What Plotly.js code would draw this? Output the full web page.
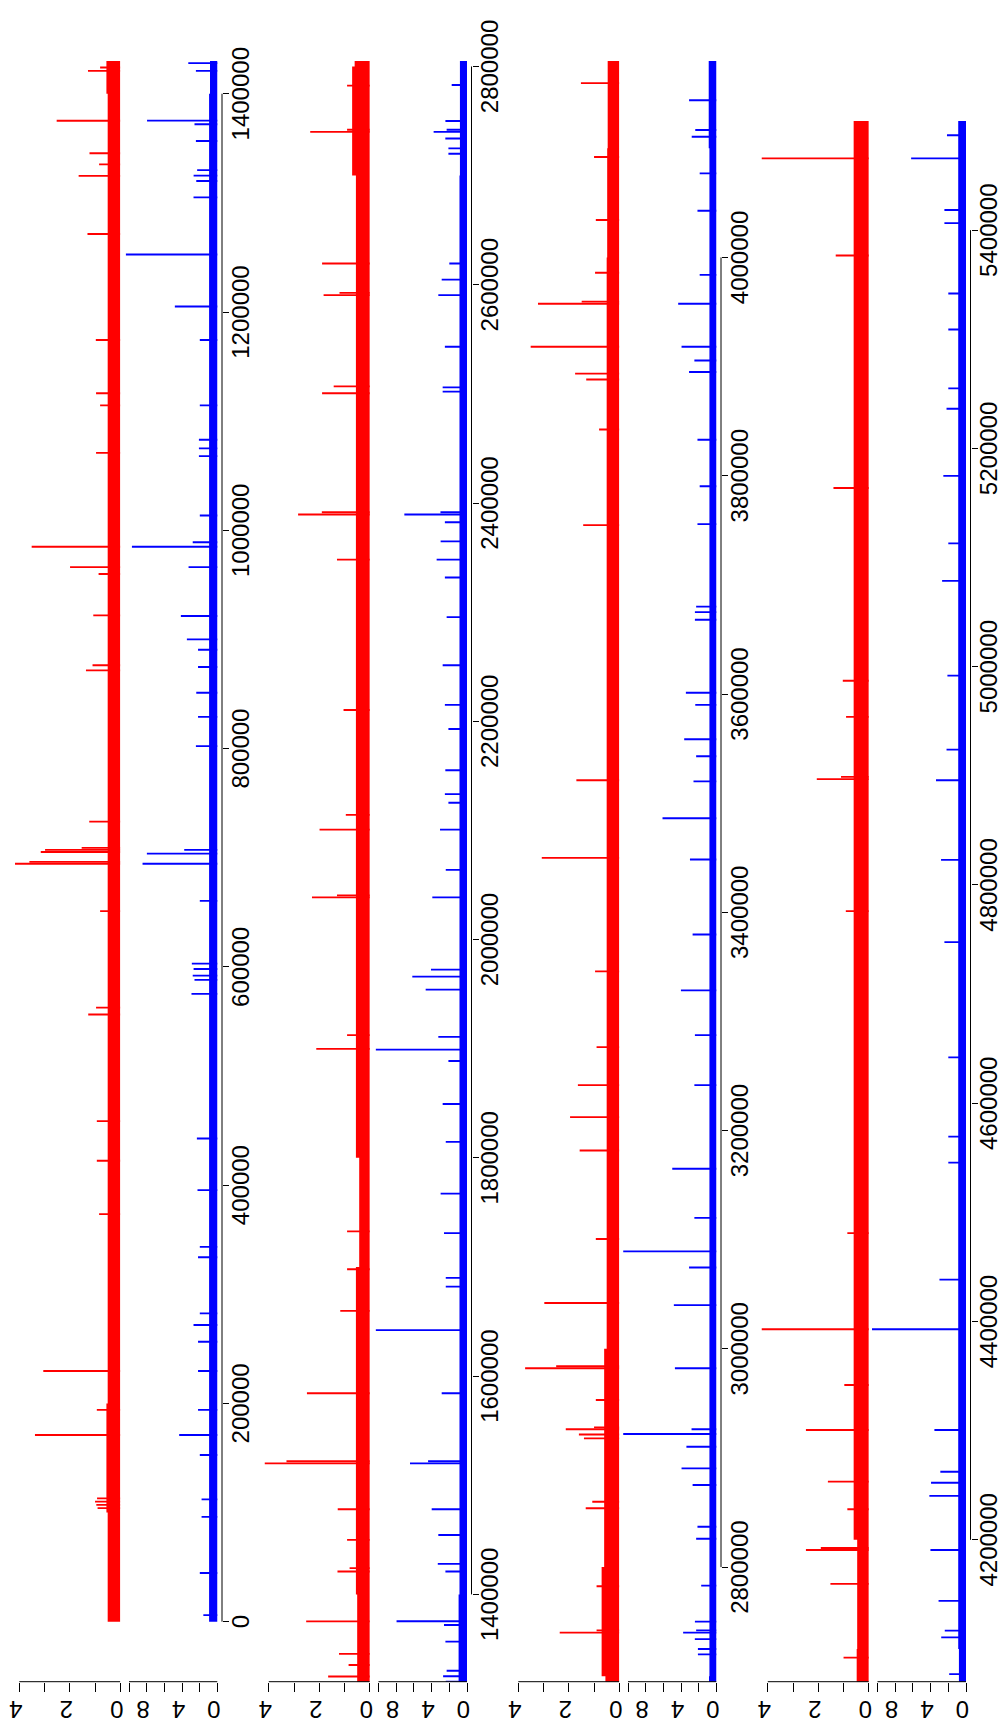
<!DOCTYPE html>
<html>
<head>
<meta charset="utf-8">
<script src="https://cdn.plot.ly/plotly-3.0.1.min.js"></script>
<style>
html,body{margin:0;padding:0;background:#fff;width:1001px;height:1731px;overflow:hidden;}
#wrap{position:absolute;left:0;top:0;width:1731px;height:1001px;transform-origin:0 0;transform:translate(0px,1731px) rotate(-90deg);}
</style>
</head>
<body>
<div id="wrap"></div>
<script>
// ---------------- DATA (positions in kb, values as read) ----------------
const binKb = 100;
// coverage background level per 100 kb bin (0 .. 5500 kb)
const redBase = [0.5,0.55,0.5,0.5,0.5,0.5,0.5,0.5,0.5,0.5,0.5,0.5,0.5,0.5,
                 0.55,0.55,0.55,0.42,0.55,0.55,0.55,0.55,0.55,0.55,0.55,0.55,0.55,
                 0.7,0.6,0.6,0.5,0.5,0.5,0.5,0.5,0.5,0.5,0.5,0.5,0.5,0.48,0.46,
                 0.6,0.6,0.6,0.6,0.6,0.6,0.6,0.6,0.6,0.6,0.6,0.6,0.6];
const blueBase = [0.95,0.95,0.95,0.95,0.95,0.95,0.95,0.95,0.95,0.95,0.95,0.95,0.95,0.95,
                  0.85,0.85,0.85,0.85,0.85,0.85,0.85,0.85,0.85,0.85,0.85,0.85,0.85,
                  0.8,0.8,0.8,0.8,0.8,0.8,0.8,0.8,0.8,0.8,0.8,0.8,0.8,0.8,
                  0.88,0.88,0.88,0.88,0.88,0.88,0.88,0.88,0.88,0.88,0.88,0.88,0.88,0.88];
// zero-coverage gaps (kb)
const gapStartKb = [228.3,809.0,1190.3,1274.5,1561.3,1633.7,1658.0,1779.5,1783.0,1787.0,1791.0,1807.5,1944.0,2162.5,2176.5,2213.0,2226.1,2672.4,2682.2,2736.6,2899.7,2919.5,4160.2,4506.2,4587.8,4736.6,4832.8,4931.0,4976.0,5018.7];
const gapEndKb   = [229.2,811.0,1198.2,1275.8,1565.0,1637.0,1659.0,1781.0,1784.5,1788.5,1793.0,1809.0,1953.4,2163.5,2178.6,2214.0,2237.1,2679.2,2689.8,2737.6,2905.7,2920.5,4163.2,4508.4,4588.8,4739.7,4837.6,4933.0,4979.0,5023.4];
// red track peaks
const redPeakKb = [104,107,110,113,171,194,229.7,373.4,422.3,458.6,556.3,562.7,651,694.5,696.2,705.2,707.2,709,733,871.6,876.3,922.1,960,966.3,984.9,1071,1114.5,1125.6,1174.4,1271.5,1324.8,1335.3,1345.5,1375.3,1421,1424,1450,1478,1520.1,1522,1584.3,1659.8,1697.9,1732.6,1899.8,1912.5,2038.6,2040.5,2100.7,2114.3,2210.3,2348.1,2389.5,2391.5,2500.6,2506.9,2590.5,2592.5,2619.5,2740,2742,2782.5,2853.9,2859.9,2918,2921.5,2926.3,2928,2953.1,2982.2,2984,3042,3100.6,3181.7,3212.3,3241.6,3276.4,3345.8,3449.9,3521,3754.8,3842.4,3888.2,3893.6,3918.2,3957.6,3959.5,3986,4034.3,4092,4159.7,4190.7,4192.5,4228,4253.3,4300.6,4341.9,4392.9,4481,4776,4897,4899,4954,4987.1,5163.8,5376.8,5465.8];
const redPeakVal = [0.9,0.95,1.0,0.92,3.38,0.93,3.05,0.84,0.93,0.93,1.27,0.96,0.8,4.17,3.6,3.15,2.98,1.53,1.23,1.36,1.1,1.07,0.86,1.99,3.51,0.96,0.8,0.96,0.97,1.3,1.65,0.84,1.22,2.52,1.28,0.8,0.9,1.27,4.16,3.3,2.49,1.17,0.9,0.9,2.12,0.9,2.29,1.3,1.99,0.95,1.04,1.3,2.84,1.9,1.89,1.43,1.83,1.2,1.89,2.36,0.9,0.9,1.33,1.07,1.4,1.6,2.12,1.0,0.93,3.73,2.5,2.97,0.93,1.57,1.95,1.64,0.9,0.96,3.07,1.7,1.43,0.8,1.31,1.75,3.51,3.22,1.49,0.96,0.93,1.0,1.52,2.49,1.9,0.85,1.62,2.49,0.97,4.24,0.85,0.91,2.06,1.1,0.9,1.03,1.4,1.31,4.24];
// blue track peaks
const bluePeakKb = [6,44.6,96,112,152.7,171,194,229.7,256.5,271.8,282.5,333.9,343.4,395.4,442.7,575.3,588,592,598,603,660.4,694.5,703.7,707.2,802.2,829,851.1,874.7,890.5,900,921.5,966.3,984.9,989,1013.6,1068,1075,1083,1114.5,1174.4,1205.1,1252.7,1305,1320,1325,1330,1356.7,1372,1375.4,1421,1428,1454.4,1478,1520.1,1522,1584.3,1642.2,1682,1690,1731,1767.2,1814.6,1849.3,1888.7,1899.2,1910.8,1954.1,1966.1,1972.4,2038.6,2063.8,2100.7,2125.4,2133.3,2155.1,2192.9,2215,2251.3,2295.5,2331.7,2348.1,2364.9,2382.4,2389.5,2391.5,2502,2506,2543.2,2590.5,2604.7,2619.5,2720,2725,2734,2740,2742,2750,2783,2826,2837,2875.2,2890.5,2910.3,2922,2926.3,2982.2,3040,3074.5,3089.3,3120,3165,3241.6,3287.5,3328.4,3379.6,3448.4,3486.2,3520,3543,3558.5,3590,3601.1,3668,3675,3680,3755.7,3790.4,3833,3895,3905.6,3918.2,3957.6,3984,4042.8,4077,4110.6,4116.8,4144,4190.7,4240.2,4252.3,4262.4,4300.6,4392.9,4438.4,4545.6,4569.4,4642,4747.6,4823,4896,4924,4991.8,5078.6,5113,5174.9,5236.4,5255,5309,5342,5406.5,5418.5,5465.8,5487];
const bluePeakVal = [1.6,2.0,1.8,1.8,2.0,4.33,2.2,2.2,2.2,2.71,2.0,2.2,2.0,2.26,2.33,2.94,2.6,2.8,2.7,2.9,2.0,8.47,7.98,3.76,2.44,2.2,2.4,2.2,2.2,3.46,4.14,3.27,9.67,2.8,2.0,2.1,2.1,2.1,2.0,2.0,4.82,10.35,2.71,2.4,2.7,2.3,2.44,2.6,7.96,2.44,3.3,3.24,3.99,6.44,4.4,2.86,10.3,2.4,2.4,2.6,2.98,2.4,2.75,2.1,10.3,3.24,4.67,6.18,4.07,3.92,2.4,3.05,2.1,2.5,2.45,2.1,2.5,2.75,2.3,2.5,3.43,2.98,2.5,7.08,3.0,2.75,2.75,2.5,3.24,2.86,2.0,2.1,2.1,2.45,3.77,2.3,2.44,1.73,2.3,2.15,2.7,3.95,3.4,10.54,2.82,4.7,4.82,3.1,10.54,2.5,5.0,2.5,2.44,4.02,2.7,3.0,6.1,2.6,2.3,3.65,2.4,3.46,2.44,2.44,2.3,2.15,1.9,2.15,3.1,2.5,3.95,4.33,1.9,2.15,1.9,2.8,2.4,3.1,4.02,4.14,3.95,2.9,3.57,10.62,3.0,2.0,2.0,2.0,2.44,2.82,3.39,2.2,2.1,2.7,2.0,2.56,2.2,2.0,2.0,2.0,2.44,2.44,6.2,2.15];
// panel genome windows (kb) and tick labels
const panelStartKb = [0, 1375, 2750, 4125];
const panelEndKb   = [1375, 2750, 4125, 5500];
const xTicks = [
  [0,200000,400000,600000,800000,1000000,1200000,1400000],
  [1400000,1600000,1800000,2000000,2200000,2400000,2600000,2800000],
  [2800000,3000000,3200000,3400000,3600000,3800000,4000000],
  [4200000,4400000,4600000,4800000,5000000,5200000,5400000]
];
const redTicks = [0,1,2,3,4];
const redTickText = ['0','','2','','4'];
const blueTicks = [0,2,4,6,8,10];
const blueTickText = ['0','','4','','8',''];

// ---------------- LAYOUT GEOMETRY (unrotated 1731 x 1001) ----------------
const W = 1731, H = 1001;
const G = {xLeft:49.3, xRight:1670, pitch:249.5, red0:120.3, blue0:217.5, axisY:222,
           redPx:25.25, bluePx:8.85, redTop:4.6, blueTop:10.95, padKb:55,
           peakW:1700, redCover:1.0, blueCover:1.5};
const RED = '#FF0000', BLUE = '#0000FF';
const tickFont = {family:'Liberation Sans, Arial, sans-serif', size:24, color:'#000'};

const edges = redBase.map((_, i) => i*binKb*1000).concat([redBase.length*binKb*1000]);
const redStep = redBase.concat([redBase[redBase.length-1]]);
const blueStep = blueBase.concat([blueBase[blueBase.length-1]]);
const gapX = gapStartKb.map((s, i) => (s + gapEndKb[i]) / 2 * 1000);
const gapW = gapStartKb.map((s, i) => (gapEndKb[i] - s) * 1000);
const redPeakX = redPeakKb.map(v => v*1000);
const bluePeakX = bluePeakKb.map(v => v*1000);

const traces = [];
const layout = {width:W, height:H, margin:{l:0,r:0,t:0,b:0}, paper_bgcolor:'#fff',
  plot_bgcolor:'rgba(0,0,0,0)', showlegend:false, barmode:'overlay', shapes:[]};

function track(xa, ya, color, step, cover, px, pv) {
  traces.push({type:'scatter', mode:'lines', x:edges, y:step, line:{shape:'hv', width:0, color:color},
    fill:'tozeroy', fillcolor:color, xaxis:xa, yaxis:ya, hoverinfo:'skip'});
  traces.push({type:'bar', x:gapX, y:gapX.map(() => cover), width:gapW, marker:{color:'#fff', line:{width:0}},
    xaxis:xa, yaxis:ya, hoverinfo:'skip'});
  traces.push({type:'bar', x:px, y:pv, width:G.peakW, marker:{color:color, line:{width:0}},
    xaxis:xa, yaxis:ya, hoverinfo:'skip'});
}

for (let p = 0; p < 4; p++) {
  const xa = p ? 'x' + (p+1) : 'x';
  const xKey = p ? 'xaxis' + (p+1) : 'xaxis';
  const ri = 2*p + 1, bi = 2*p + 2;
  const ya = ri === 1 ? 'y' : 'y' + ri, yb = 'y' + bi;
  const rKey = ri === 1 ? 'yaxis' : 'yaxis' + ri, bKey = 'yaxis' + bi;
  const r0 = G.red0 + G.pitch*p, b0 = G.blue0 + G.pitch*p, ax = G.axisY + G.pitch*p;
  const lo = (panelStartKb[p] - G.padKb) * 1000, hi = (panelEndKb[p] + G.padKb) * 1000;
  const xpos = 1 - ax / H;
  layout[xKey] = {domain:[G.xLeft/W, G.xRight/W], range:[lo, hi], anchor:'free', position:xpos, side:'bottom',
    showgrid:false, zeroline:false, showline:false, ticks:'outside', ticklen:6, tickwidth:1, tickcolor:'#000',
    ticklabelstandoff:-9,
    tickmode:'array', tickvals:xTicks[p], ticktext:xTicks[p].map(String), tickfont:tickFont, tickangle:0, fixedrange:true};
  layout[rKey] = {domain:[1 - r0/H, 1 - (r0 - G.redTop*G.redPx)/H], range:[0, G.redTop], anchor:xa, side:'left',
    showgrid:false, zeroline:false, showline:false, ticks:'outside', ticklen:9, tickwidth:1, tickcolor:'#000',
    tickmode:'array', tickvals:redTicks, ticktext:redTickText, tickangle:-90, tickfont:tickFont, fixedrange:true};
  layout[bKey] = {domain:[1 - b0/H, 1 - (b0 - G.blueTop*G.bluePx)/H], range:[0, G.blueTop], anchor:xa, side:'left',
    showgrid:false, zeroline:false, showline:false, ticks:'outside', ticklen:9, tickwidth:1, tickcolor:'#000',
    tickmode:'array', tickvals:blueTicks, ticktext:blueTickText, tickangle:-90, tickfont:tickFont, fixedrange:true};

  track(xa, ya, RED, redStep, G.redCover, redPeakX, redPeakVal);
  track(xa, yb, BLUE, blueStep, G.blueCover, bluePeakX, bluePeakVal);

  const t = xTicks[p];
  layout.shapes.push({type:'line', xref:xa, yref:'paper', x0:t[0], x1:t[t.length-1], y0:xpos, y1:xpos,
    line:{color:'#000', width:1}});
  layout.shapes.push({type:'line', xref:'paper', yref:ya, x0:G.xLeft/W, x1:G.xLeft/W,
    y0:redTicks[0], y1:redTicks[redTicks.length-1], line:{color:'#000', width:1}});
  layout.shapes.push({type:'line', xref:'paper', yref:yb, x0:G.xLeft/W, x1:G.xLeft/W,
    y0:blueTicks[0], y1:blueTicks[blueTicks.length-1], line:{color:'#000', width:1}});
}

Plotly.newPlot('wrap', traces, layout, {staticPlot:true, displayModeBar:false});
</script>
</body>
</html>
